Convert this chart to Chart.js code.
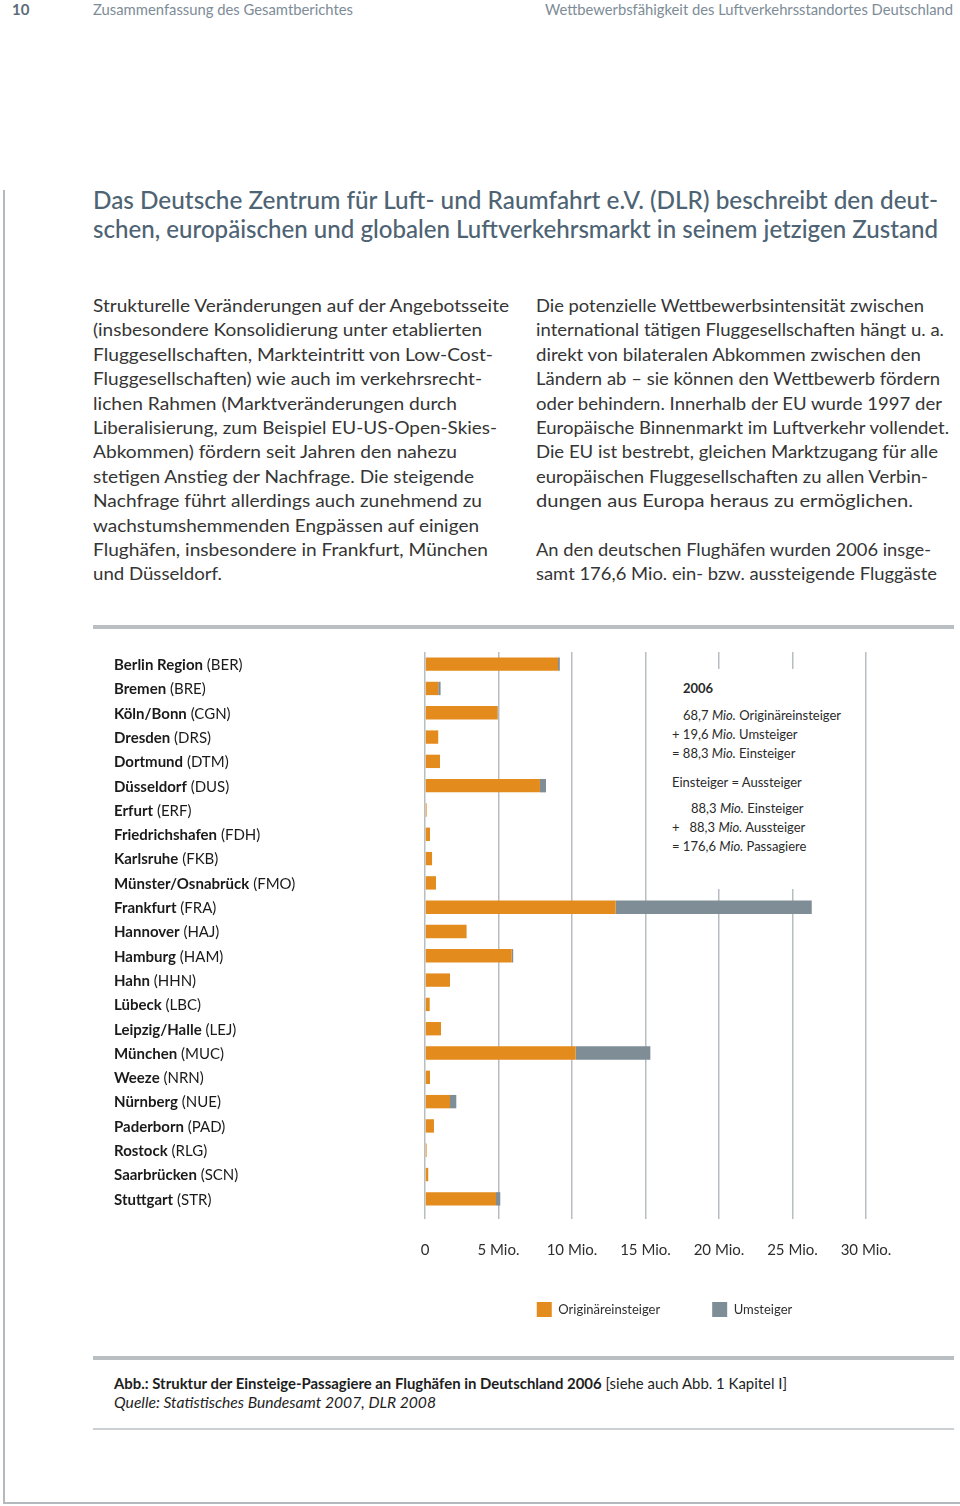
<!DOCTYPE html>
<html><head><meta charset="utf-8">
<script src="https://cdn.jsdelivr.net/npm/chart.js@4.4.1/dist/chart.umd.min.js"></script>
<style>
html,body{margin:0;padding:0;background:#fff;width:960px;height:1506px;overflow:hidden;position:relative;font-family:Lato,"Open Sans",sans-serif;}
.a{position:absolute;white-space:nowrap;}
.fit{display:inline-block;transform-origin:0 50%;}
.hdr{font-size:15px;color:#7d8c97;line-height:18px;top:0;}
.title{font-size:24px;font-weight:500;color:#4e6373;line-height:29px;left:93px;}
.body{font-size:18px;color:#353535;line-height:24.4px;}
.rule{position:absolute;background:#b9bfc3;}
.box{position:absolute;left:662px;top:669px;width:198px;height:220px;background:#fff;}
.bx{font-size:13px;color:#2a2a2a;line-height:19px;}
.cap{font-size:15px;color:#1e1e1e;line-height:19px;left:114px;}
</style></head>
<body>
<div class="a hdr" style="left:12px;font-weight:bold;color:#5d6d78;">10</div>
<div class="a hdr" style="left:93px;"><span class="fit" data-r="353">Zusammenfassung des Gesamtberichtes</span></div>
<div class="a hdr" style="left:545px;"><span class="fit" data-r="953">Wettbewerbsfähigkeit des Luftverkehrsstandortes Deutschland</span></div>

<div class="a title" style="top:185px;"><span class="fit" data-r="938">Das Deutsche Zentrum für Luft- und Raumfahrt e.V. (DLR) beschreibt den deut-</span></div>
<div class="a title" style="top:214px;"><span class="fit" data-r="938">schen, europäischen und globalen Luftverkehrsmarkt in seinem jetzigen Zustand</span></div>

<div class="a body" style="left:93px;top:293px;">
<div><span class="fit" data-r="509">Strukturelle Veränderungen auf der Angebotsseite</span></div>
<div><span class="fit" data-r="482">(insbesondere Konsolidierung unter etablierten</span></div>
<div><span class="fit" data-r="493">Fluggesellschaften, Markteintritt von Low-Cost-</span></div>
<div><span class="fit" data-r="482">Fluggesellschaften) wie auch im verkehrsrecht-</span></div>
<div><span class="fit" data-r="457">lichen Rahmen (Marktveränderungen durch</span></div>
<div><span class="fit" data-r="497">Liberalisierung, zum Beispiel EU-US-Open-Skies-</span></div>
<div><span class="fit" data-r="457">Abkommen) fördern seit Jahren den nahezu</span></div>
<div><span class="fit" data-r="474">stetigen Anstieg der Nachfrage. Die steigende</span></div>
<div><span class="fit" data-r="482">Nachfrage führt allerdings auch zunehmend zu</span></div>
<div><span class="fit" data-r="479">wachstumshemmenden Engpässen auf einigen</span></div>
<div><span class="fit" data-r="488">Flughäfen, insbesondere in Frankfurt, München</span></div>
<div><span class="fit" data-r="222">und Düsseldorf.</span></div>
</div>

<div class="a body" style="left:536px;top:293px;">
<div><span class="fit" data-r="924">Die potenzielle Wettbewerbsintensität zwischen</span></div>
<div><span class="fit" data-r="944">international tätigen Fluggesellschaften hängt u. a.</span></div>
<div><span class="fit" data-r="921">direkt von bilateralen Abkommen zwischen den</span></div>
<div><span class="fit" data-r="940">Ländern ab – sie können den Wettbewerb fördern</span></div>
<div><span class="fit" data-r="942">oder behindern. Innerhalb der EU wurde 1997 der</span></div>
<div><span class="fit" data-r="949">Europäische Binnenmarkt im Luftverkehr vollendet.</span></div>
<div><span class="fit" data-r="938">Die EU ist bestrebt, gleichen Marktzugang für alle</span></div>
<div><span class="fit" data-r="928">europäischen Fluggesellschaften zu allen Verbin-</span></div>
<div><span class="fit" data-r="913">dungen aus Europa heraus zu ermöglichen.</span></div>
<div>&nbsp;</div>
<div><span class="fit" data-r="931">An den deutschen Flughäfen wurden 2006 insge-</span></div>
<div><span class="fit" data-r="937">samt 176,6 Mio. ein- bzw. aussteigende Fluggäste</span></div>
</div>

<div class="rule" style="left:93px;top:625px;width:861px;height:4px;"></div>

<canvas id="c" width="960" height="718" style="position:absolute;left:0;top:640px;width:960px;height:718px;"></canvas>

<div class="box"></div>
<div class="a bx" style="left:683px;top:679px;font-weight:bold;">2006</div>
<div class="a bx" style="left:683px;top:706px;">68,7 <i>Mio.</i> Originäreinsteiger</div>
<div class="a bx" style="left:672px;top:725px;">+ 19,6 <i>Mio.</i> Umsteiger</div>
<div class="a bx" style="left:672px;top:744px;">= 88,3 <i>Mio.</i> Einsteiger</div>
<div class="a bx" style="left:672px;top:773px;">Einsteiger = Aussteiger</div>
<div class="a bx" style="left:691px;top:799px;">88,3 <i>Mio.</i> Einsteiger</div>
<div class="a bx" style="left:672px;top:818px;">+&nbsp;&nbsp;&nbsp;88,3 <i>Mio.</i> Aussteiger</div>
<div class="a bx" style="left:672px;top:837px;">= 176,6 <i>Mio.</i> Passagiere</div>

<div class="rule" style="left:93px;top:1356px;width:861px;height:4px;"></div>
<div class="a cap" style="top:1374px;"><span class="fit" data-r="787"><b>Abb.: Struktur der Einsteige-Passagiere an Flughäfen in Deutschland 2006</b> [siehe auch Abb. 1 Kapitel I]</span></div>
<div class="a cap" style="top:1393px;font-style:italic;"><span class="fit" data-r="436">Quelle: Statistisches Bundesamt 2007, DLR 2008</span></div>
<div class="rule" style="left:93px;top:1428px;width:861px;height:2px;background:#ccd0d3;"></div>

<div class="rule" style="left:3px;top:190px;width:2px;height:1314px;background:#b3b9bd;"></div>
<div class="rule" style="left:3px;top:1502px;width:957px;height:2px;background:#b3b9bd;"></div>

<script>
// ---- data ----
const airports = ['Berlin Region','Bremen','Köln/Bonn','Dresden','Dortmund','Düsseldorf','Erfurt','Friedrichshafen','Karlsruhe','Münster/Osnabrück','Frankfurt','Hannover','Hamburg','Hahn','Lübeck','Leipzig/Halle','München','Weeze','Nürnberg','Paderborn','Rostock','Saarbrücken','Stuttgart'];
const codes = ['BER','BRE','CGN','DRS','DTM','DUS','ERF','FDH','FKB','FMO','FRA','HAJ','HAM','HHN','LBC','LEJ','MUC','NRN','NUE','PAD','RLG','SCN','STR'];
// Originäreinsteiger (Mio.)
const originaer = [9.05,0.90,4.94,0.90,1.02,7.82,0.11,0.34,0.48,0.75,12.97,2.83,5.90,1.70,0.32,1.09,10.25,0.34,1.70,0.61,0.11,0.22,4.83];
// Umsteiger (Mio.)
const umsteiger = [0.12,0.16,0.03,0,0,0.41,0,0,0,0,13.34,0,0.10,0,0,0,5.08,0,0.43,0,0,0,0.29];
const tickLabels = ['0','5 Mio.','10 Mio.','15 Mio.','20 Mio.','25 Mio.','30 Mio.'];
const seriesNames = ['Originäreinsteiger','Umsteiger'];

function fitAll(){
  document.querySelectorAll('.fit').forEach(el=>{
    el.style.transform='none';
    const r = el.getBoundingClientRect();
    const target = parseFloat(el.dataset.r) - r.left;
    if (r.width>0) el.style.transform = 'scaleX(' + (target/r.width) + ')';
  });
}
fitAll();
if (document.fonts && document.fonts.ready) document.fonts.ready.then(fitAll);

const labelPlugin = {
  id:'airportLabels',
  afterDraw(chart){
    const ctx = chart.ctx, y = chart.scales.y;
    ctx.save();
    ctx.textBaseline = 'middle';
    ctx.fillStyle = '#1a1a1a';
    airports.forEach((name,i)=>{
      const py = y.getPixelForValue(i) + 1;
      ctx.font = 'bold 15px Lato, sans-serif';
      ctx.fillText(name, 114, py);
      const w = ctx.measureText(name).width;
      ctx.font = '15px Lato, sans-serif';
      ctx.fillText(' (' + codes[i] + ')', 114 + w, py);
    });
    ctx.restore();
  }
};
const legendShift = {
  id:'legendShift',
  afterLayout(chart){
    const lg = chart.legend;
    if (lg){ lg.left += 19; lg.right += 19; lg.top -= 31; lg.bottom -= 31; }
  }
};

new Chart(document.getElementById('c'), {
  type:'bar',
  data:{
    labels: airports,
    datasets:[
      {label:seriesNames[0], data:originaer, backgroundColor:'#e38b1d', borderWidth:0, barPercentage:0.55, categoryPercentage:1},
      {label:seriesNames[1], data:umsteiger, backgroundColor:'#7f8d97', borderWidth:0, barPercentage:0.55, categoryPercentage:1}
    ]
  },
  options:{
    indexAxis:'y',
    responsive:false,
    animation:false,
    layout:{padding:{top:12,left:425,right:94,bottom:0}},
    scales:{
      x:{
        stacked:true, min:0, max:30,
        ticks:{stepSize:5, padding:22, color:'#2e2e2e', font:{family:'Lato', size:15},
          callback:(v,i)=>tickLabels[i]},
        grid:{color:'#b7bdc1', lineWidth:1.5, drawTicks:true, tickLength:8, tickColor:'#b7bdc1'},
        border:{display:false}
      },
      y:{stacked:true, display:false}
    },
    plugins:{
      legend:{
        position:'bottom', fullSize:false,
        labels:{boxWidth:15, boxHeight:15, padding:52, color:'#2e2e2e', font:{family:'Lato', size:13}}
      },
      tooltip:{enabled:false}
    }
  },
  plugins:[labelPlugin, legendShift]
});
</script>
</body></html>
